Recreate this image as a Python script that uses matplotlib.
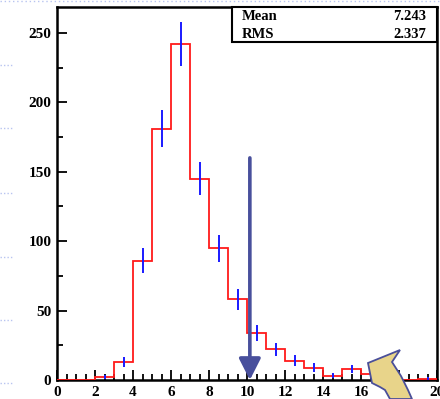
import numpy as np
import matplotlib
matplotlib.use("Agg")
import matplotlib.pyplot as plt
from matplotlib.patches import Polygon, FancyArrowPatch
from matplotlib.lines import Line2D
from matplotlib.ticker import MultipleLocator

# Data
bin_edges = list(range(0, 21))
counts = [0, 0, 2, 13, 86, 181, 242, 145, 95, 58, 34, 22, 14, 9, 3, 8, 4, 2, 0, 1]
mean_val = "7.243"
rms_val = "2.337"
marker_x = 10.15

W, H = 440, 399
fig = plt.figure(figsize=(W / 100, H / 100), dpi=100)
plt.rcParams['font.family'] = ['Liberation Serif', 'DejaVu Serif']

ax = fig.add_axes([57 / W, 1 - 380 / H, (437 - 57) / W, (380 - 7) / H])

edges = np.array(bin_edges, dtype=float)
vals = np.array(counts, dtype=float)
centers = 0.5 * (edges[:-1] + edges[1:])

ax.stairs(vals, edges, color='#ff1a1a', lw=1.3, zorder=3)
mask = vals > 0
ax.errorbar(centers[mask], vals[mask], yerr=np.sqrt(vals[mask]), fmt='none',
            ecolor='#1a1aff', elinewidth=1.4, capsize=0, zorder=4)

ax.set_xlim(0, 20)
ax.set_ylim(0, 268.7)
ax.xaxis.set_major_locator(MultipleLocator(2))
ax.xaxis.set_minor_locator(MultipleLocator(0.5))
ax.yaxis.set_major_locator(MultipleLocator(50))
ax.yaxis.set_minor_locator(MultipleLocator(25))
ax.tick_params(which='both', direction='in', top=False, right=False, width=1.3, color='black')
ax.tick_params(which='major', length=7, labelsize=11, pad=4)
ax.tick_params(which='minor', length=4)
for lab in ax.get_xticklabels() + ax.get_yticklabels():
    lab.set_fontweight('bold')
for s in ax.spines.values():
    s.set_linewidth(1.8)

# Stats box
box_l, box_r, box_t, box_b = 232, 437, 7, 42
fig.patches.append(plt.Rectangle((box_l / W, 1 - box_b / H), (box_r - box_l) / W, (box_b - box_t) / H,
                                 transform=fig.transFigure, fill=True, facecolor='white',
                                 edgecolor='black', lw=1.5, zorder=5))
fig.text(242 / W, 1 - 16.5 / H, "Mean", fontsize=10.5, fontweight='bold', va='center', ha='left', zorder=6)
fig.text(426 / W, 1 - 16.5 / H, mean_val, fontsize=10.5, fontweight='bold', va='center', ha='right', zorder=6)
fig.text(242 / W, 1 - 34 / H, "RMS", fontsize=10.5, fontweight='bold', va='center', ha='left', zorder=6)
fig.text(426 / W, 1 - 34 / H, rms_val, fontsize=10.5, fontweight='bold', va='center', ha='right', zorder=6)

# Blue vertical arrow
arr = FancyArrowPatch((marker_x, 160), (marker_x, 0), arrowstyle='-|>,head_length=6.5,head_width=3.3',
                      color='#484f9c', lw=2.6, mutation_scale=2, shrinkA=0, shrinkB=0, zorder=6,
                      clip_on=False)
ax.add_patch(arr)

# Yellow curved arrow decoration (pixel coords)
pts = [(368, 363), (400, 350), (392, 362), (401, 376), (408, 390), (412, 399),
       (390, 399), (385, 390), (380, 387), (372, 383)]
poly = Polygon([(x / W, 1 - y / H) for x, y in pts], closed=True, transform=fig.transFigure,
               facecolor='#e8d48a', edgecolor='#4a4f9a', lw=1.3, zorder=10)
fig.patches.append(poly)

# Slide dotted artifacts
fig.lines.append(Line2D([0, 1], [1 - 1 / H, 1 - 1 / H], transform=fig.transFigure,
                        color='#b8c4f0', lw=1, ls=(0, (1, 2))))
for yy in [65, 128, 193, 257, 320, 383]:
    fig.lines.append(Line2D([0, 13 / W], [1 - yy / H, 1 - yy / H], transform=fig.transFigure,
                            color='#b8c4f0', lw=1, ls=(0, (1, 1.5))))

fig.savefig("out.png", dpi=100)
